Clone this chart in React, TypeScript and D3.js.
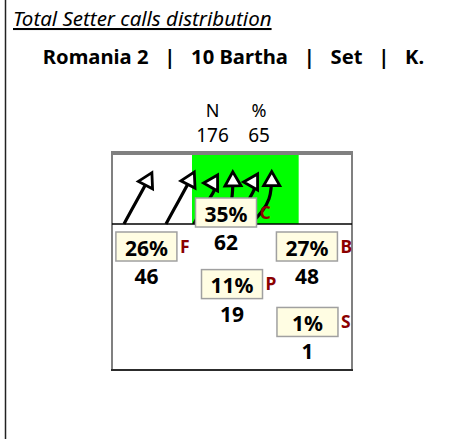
import React, { useRef, useEffect } from "react";
import * as d3 from "d3";

// header texts
const title = "Total Setter calls distribution";
const subtitle = "Romania 2   |   10 Bartha   |   Set   |   K.";
const summaryHeads = ["N", "%"];
const summaryValues = [176, 65];

// zones of the set distribution
const zoneLetters = ["F", "C", "B", "P", "S"];
const zonePercents = [26, 35, 27, 11, 1];
const zoneCounts = [46, 62, 48, 19, 1];
// where each zone label sits on the court (meters, net = 0)
const zoneX = [1.29, 4.275, 7.31, 4.5, 7.33];
const zoneY = [0.3, -0.975, 0.3, 1.71, 3.13];

// highlighted attack band above the net (meters)
const highlightBand = [3, 7];

// setter call arrows: start, control 1, control 2, end (meters)
const arrows = [
  [0.45, 0, 0.79, -0.64, 1.16, -1.275, 1.47, -1.875],
  [2.025, 0, 2.36, -0.64, 2.74, -1.275, 3.06, -1.9],
  [3.075, 0, 3.49, -0.9, 4.35, -1.54, 3.49, -1.54],
  [4.275, 0, 4.54, -0.9, 4.54, -1.3, 4.53, -1.9],
  [4.65, 0, 4.95, -0.9, 5.85, -1.575, 4.99, -1.575],
  [5.175, 0, 6.0, -0.71, 5.99, -1.2, 5.99, -1.91],
];

const FONT = "'Noto Sans', 'Open Sans', sans-serif";

const SetterChart = () => {
  const svgRef = useRef(null);

  useEffect(() => {
    const width = 452;
    const height = 439;
    const svg = d3.select(svgRef.current).attr("width", width).attr("height", height);
    svg.selectAll("*").remove();

    // court: 9 m wide, net line at y = 0
    const court = { left: 112, right: 352, top: 152, bottom: 370 };
    const x = d3.scaleLinear().domain([0, 9]).range([court.left, court.right]);
    const y = d3
      .scaleLinear()
      .domain([-2.7, 5.475])
      .range([court.top, court.bottom]);

    // frame line on the left
    svg
      .append("line")
      .attr("x1", 5.5)
      .attr("x2", 5.5)
      .attr("y1", 0)
      .attr("y2", height)
      .attr("stroke", "#222")
      .attr("stroke-width", 1.5);

    svg
      .append("text")
      .attr("x", 13)
      .attr("y", 26)
      .attr("font-family", FONT)
      .attr("font-size", 20.5)
      .attr("font-style", "italic")
      .style("text-decoration", "underline")
      .text(title);

    svg
      .append("text")
      .attr("x", 233.5)
      .attr("y", 64)
      .attr("text-anchor", "middle")
      .attr("font-family", FONT)
      .attr("font-size", 20.2)
      .attr("font-weight", "bold")
      .style("white-space", "pre")
      .text(subtitle);

    // N / % summary
    const sumX = [212.5, 259];
    summaryHeads.forEach((h, i) => {
      svg
        .append("text")
        .attr("x", sumX[i])
        .attr("y", 117)
        .attr("text-anchor", "middle")
        .attr("font-family", FONT)
        .attr("font-size", 18)
        .text(h);
      svg
        .append("text")
        .attr("x", sumX[i])
        .attr("y", 141.5)
        .attr("text-anchor", "middle")
        .attr("font-family", FONT)
        .attr("font-size", 19)
        .text(summaryValues[i]);
    });

    // court outline
    svg
      .append("rect")
      .attr("x", x(0))
      .attr("y", y(-2.7))
      .attr("width", x(9) - x(0))
      .attr("height", y(5.475) - y(-2.7))
      .attr("fill", "white")
      .attr("stroke", "#808080")
      .attr("stroke-width", 2);

    svg
      .append("rect")
      .attr("x", x(highlightBand[0]))
      .attr("y", y(-2.7))
      .attr("width", x(highlightBand[1]) - x(highlightBand[0]))
      .attr("height", y(0) - y(-2.7))
      .attr("fill", "#00ff00");

    svg
      .append("line")
      .attr("x1", x(0))
      .attr("x2", x(9))
      .attr("y1", y(-2.7) + 1)
      .attr("y2", y(-2.7) + 1)
      .attr("stroke", "#808080")
      .attr("stroke-width", 4);

    svg
      .append("line")
      .attr("x1", x(0) - 1)
      .attr("x2", x(9) + 1)
      .attr("y1", y(5.475))
      .attr("y2", y(5.475))
      .attr("stroke", "#111")
      .attr("stroke-width", 1.5);

    // net
    svg
      .append("line")
      .attr("x1", x(0))
      .attr("x2", x(9))
      .attr("y1", y(0))
      .attr("y2", y(0))
      .attr("stroke", "black")
      .attr("stroke-width", 1.5);

    // arrow head
    svg
      .append("defs")
      .append("marker")
      .attr("id", "head")
      .attr("markerUnits", "userSpaceOnUse")
      .attr("viewBox", "-5 -14 28 28")
      .attr("markerWidth", 28)
      .attr("markerHeight", 28)
      .attr("refX", 12.5)
      .attr("refY", 0)
      .attr("orient", "auto")
      .append("path")
      .attr("d", "M0,-8L14,0L0,8Z")
      .attr("fill", "white")
      .attr("stroke", "black")
      .attr("stroke-width", 2.8)
      .attr("stroke-linejoin", "miter");

    svg
      .selectAll(".call")
      .data(arrows)
      .enter()
      .append("path")
      .attr("class", "call")
      .attr("d", (a) => {
        const p = d3.path();
        p.moveTo(x(a[0]), y(a[1]));
        p.bezierCurveTo(x(a[2]), y(a[3]), x(a[4]), y(a[5]), x(a[6]), y(a[7]));
        return p.toString();
      })
      .attr("fill", "none")
      .attr("stroke", "black")
      .attr("stroke-width", 3.2)
      .attr("marker-end", "url(#head)");

    // zone labels
    const boxW = 61;
    const boxH = 29;
    const zones = svg
      .selectAll(".zone")
      .data(zoneLetters)
      .enter()
      .append("g")
      .attr("class", "zone")
      .attr("transform", (d, i) => `translate(${x(zoneX[i])},${y(zoneY[i])})`);

    zones
      .append("rect")
      .attr("x", -boxW / 2)
      .attr("y", 0)
      .attr("width", boxW)
      .attr("height", boxH)
      .attr("fill", "#fffde3")
      .attr("stroke", "#a0a0a0")
      .attr("stroke-width", 1.5);

    zones
      .append("text")
      .attr("x", 0)
      .attr("y", 23.5)
      .attr("text-anchor", "middle")
      .attr("font-family", FONT)
      .attr("font-size", 21)
      .attr("font-weight", "bold")
      .text((d, i) => `${zonePercents[i]}%`);

    zones
      .append("text")
      .attr("x", boxW / 2 + 3)
      .attr("y", 20.5)
      .attr("font-family", FONT)
      .attr("font-size", 17.5)
      .attr("font-weight", "bold")
      .attr("fill", "#8b0000")
      .text((d) => d);

    zones
      .append("text")
      .attr("x", 0)
      .attr("y", 52)
      .attr("text-anchor", "middle")
      .attr("font-family", FONT)
      .attr("font-size", 21)
      .attr("font-weight", "bold")
      .text((d, i) => zoneCounts[i]);
  }, []);

  return (
    <svg
      ref={svgRef}
      style={{ position: "absolute", left: 0, top: 0, display: "block" }}
    ></svg>
  );
};

export default function App() {
  return <SetterChart />;
}
